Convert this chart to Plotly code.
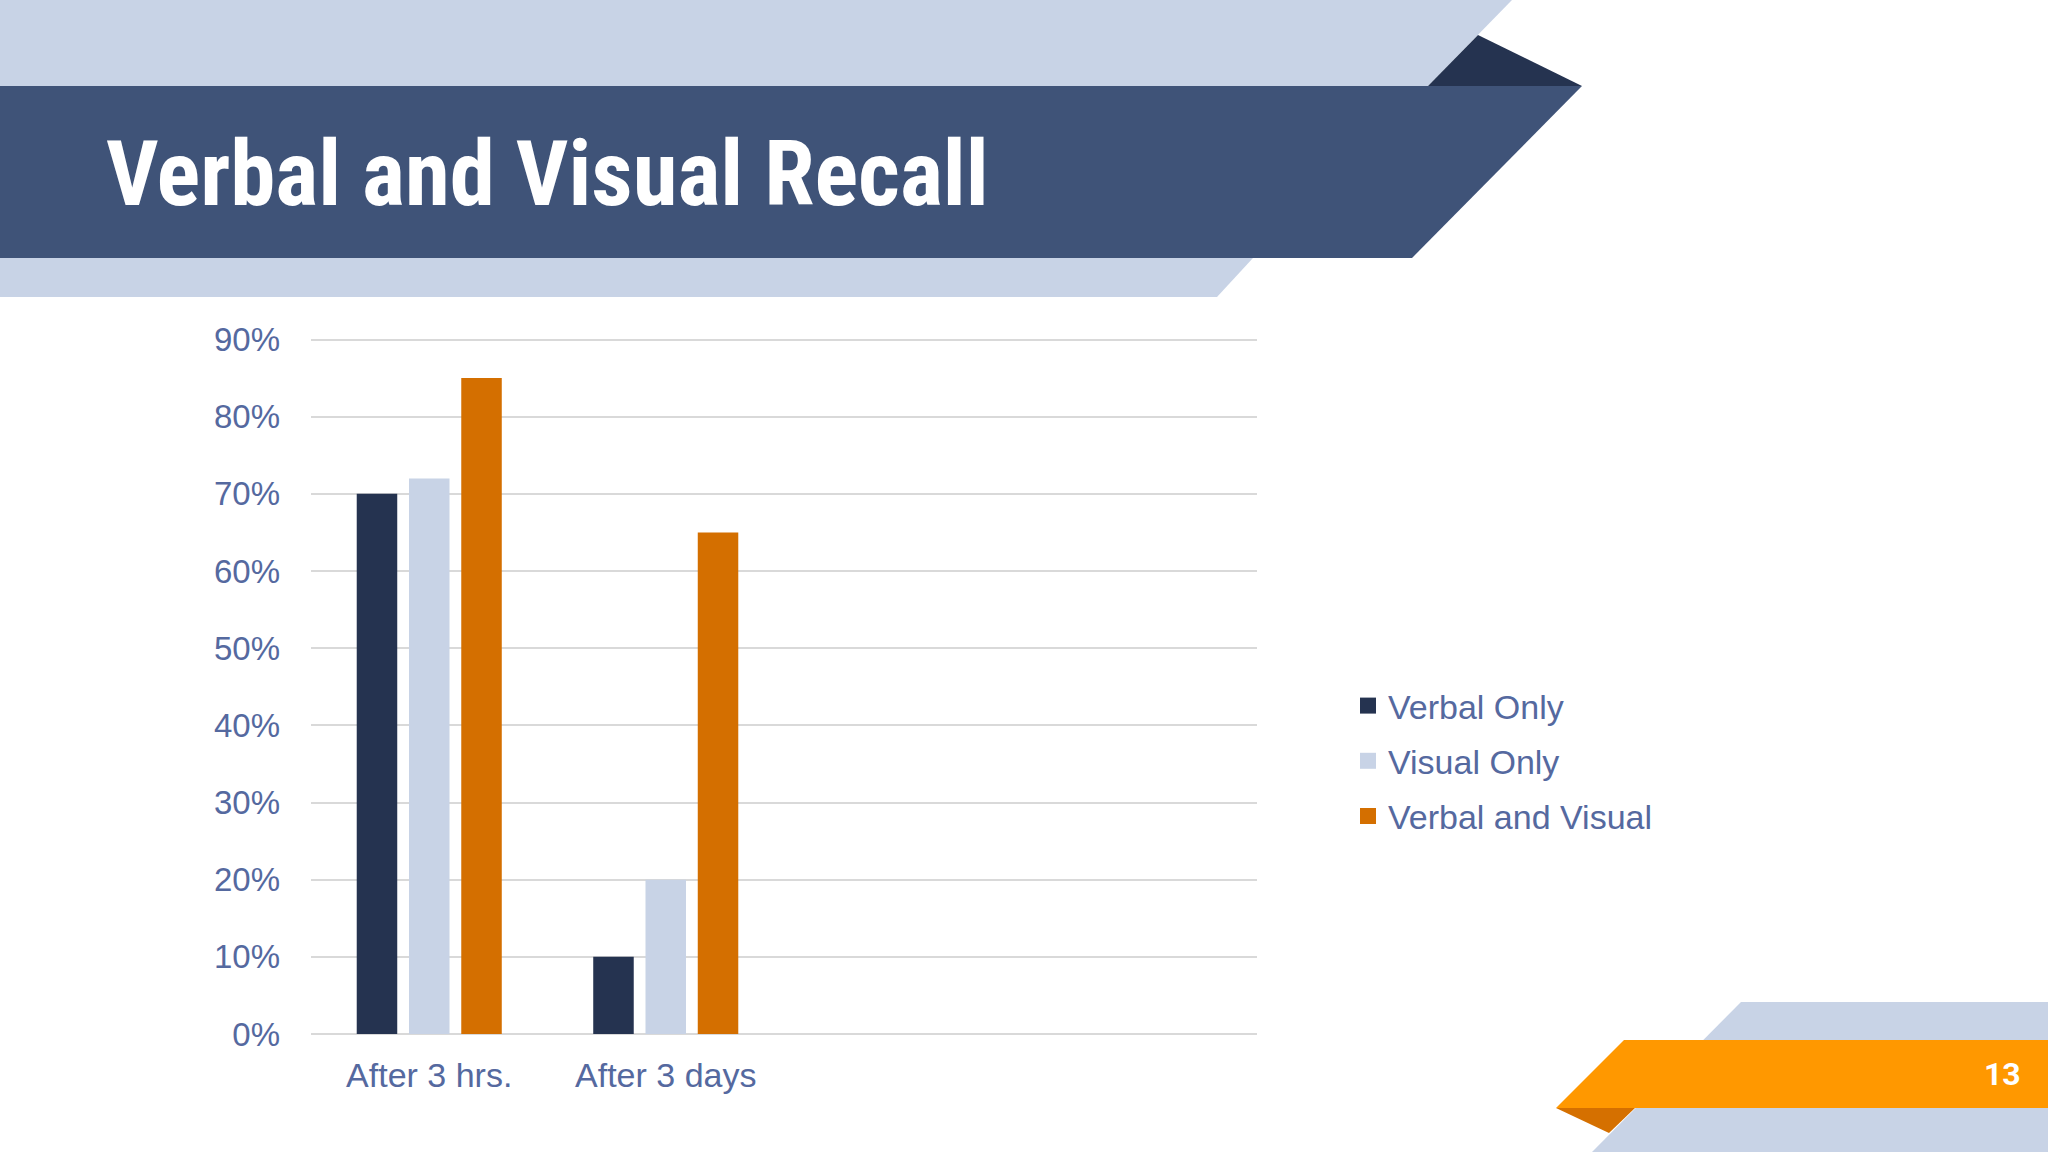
import plotly.graph_objects as go

# データ
categories = ["After 3 hrs.", "After 3 days"]
series_names = ["Verbal Only", "Visual Only", "Verbal and Visual"]
verbal_only = [0.70, 0.10]
visual_only = [0.72, 0.20]
verbal_and_visual = [0.85, 0.65]
slide_number = "13"

colors = ["#253350", "#C8D3E6", "#D46F00"]
text_color = "#55699F"

W, H = 2048, 1152
# 描画領域 (px)
PL, PR, PT, PB = 311, 1257, 338, 1034


def px(x, y):
    # ピクセル座標 -> paper座標
    return (x - PL) / (PR - PL), (PB - y) / (PB - PT)


def poly(points, color):
    pts = [px(x, y) for x, y in points]
    path = "M" + " L".join(f"{a:.5f},{b:.5f}" for a, b in pts) + " Z"
    return dict(type="path", xref="paper", yref="paper", path=path,
                fillcolor=color, line=dict(width=0), layer="below")


shapes = [
    # 上部の帯
    poly([(0, 0), (1512, 0), (1428, 86), (0, 86)], "#C8D3E6"),
    poly([(1478, 35), (1582, 86), (1428, 86)], "#253350"),
    poly([(0, 258), (1253, 258), (1217, 297), (0, 297)], "#C8D3E6"),
    poly([(0, 86), (1582, 86), (1412, 258), (0, 258)], "#3F5378"),
    # 右下の帯
    poly([(1741, 1002), (W, 1002), (W, H), (1592, H)], "#C8D3E6"),
    poly([(1556, 1108), (1635, 1108), (1609, 1133)], "#D57000"),
    poly([(1624, 1040), (W, 1040), (W, 1108), (1556, 1108)], "#FF9800"),
]

fig = go.Figure()
for name, vals, c in zip(series_names, [verbal_only, visual_only, verbal_and_visual], colors):
    fig.add_trace(go.Bar(x=list(range(len(categories))), y=vals, name=name,
                         marker=dict(color=c, line=dict(width=0)),
                         legendgroup=name, showlegend=False))
    # 凡例用 (四角マーカー)
    fig.add_trace(go.Scatter(x=[None], y=[None], mode="markers", name=name,
                             marker=dict(symbol="square", size=16, color=c),
                             legendgroup=name, showlegend=True))

tx, ty = px(104, 174)
nx, ny = px(2002, 1074)
fig.update_layout(
    width=W, height=H,
    margin=dict(l=PL, r=W - PR, t=PT, b=H - PB, pad=0),
    paper_bgcolor="white", plot_bgcolor="white",
    barmode="group", bargap=0.337, bargroupgap=0.225,
    font=dict(family="Liberation Sans, Arial, sans-serif", size=33, color=text_color),
    shapes=shapes,
    annotations=[
        dict(text="<b>Verbal and Visual Recall</b>", x=tx, y=ty, xref="paper", yref="paper",
             xanchor="left", yanchor="middle", showarrow=False,
             font=dict(family="Roboto Condensed, Liberation Sans Narrow, DejaVu Sans Condensed, sans-serif",
                       size=91, color="white")),
        dict(text="<b>" + slide_number + "</b>", x=nx, y=ny, xref="paper", yref="paper",
             xanchor="center", yanchor="middle", showarrow=False,
             font=dict(family="Roboto", size=32, color="white")),
    ],
    legend=dict(x=px(1348, 0)[0], y=px(0, 677)[1], xanchor="left", yanchor="top",
                font=dict(size=34, color=text_color), tracegroupgap=8,
                bgcolor="rgba(0,0,0,0)", itemsizing="trace"),
    showlegend=True,
)
fig.update_xaxes(range=[-0.5, 3.5], tickvals=list(range(len(categories))), ticktext=categories,
                 showgrid=False, zeroline=False, showline=False, ticks="", ticklabelstandoff=18,
                 tickfont=dict(size=34))
fig.update_yaxes(range=[0, 0.902], tickvals=[i / 10 for i in range(10)], tickformat=".0%",
                 showgrid=True, gridcolor="#D9D9D9", gridwidth=1.5, zeroline=True,
                 zerolinecolor="#D9D9D9", zerolinewidth=1.5, showline=False, ticks="",
                 ticklabelstandoff=30)

fig.write_html("out.html", config={"displayModeBar": False},
               post_script="document.body.style.margin='0';")
